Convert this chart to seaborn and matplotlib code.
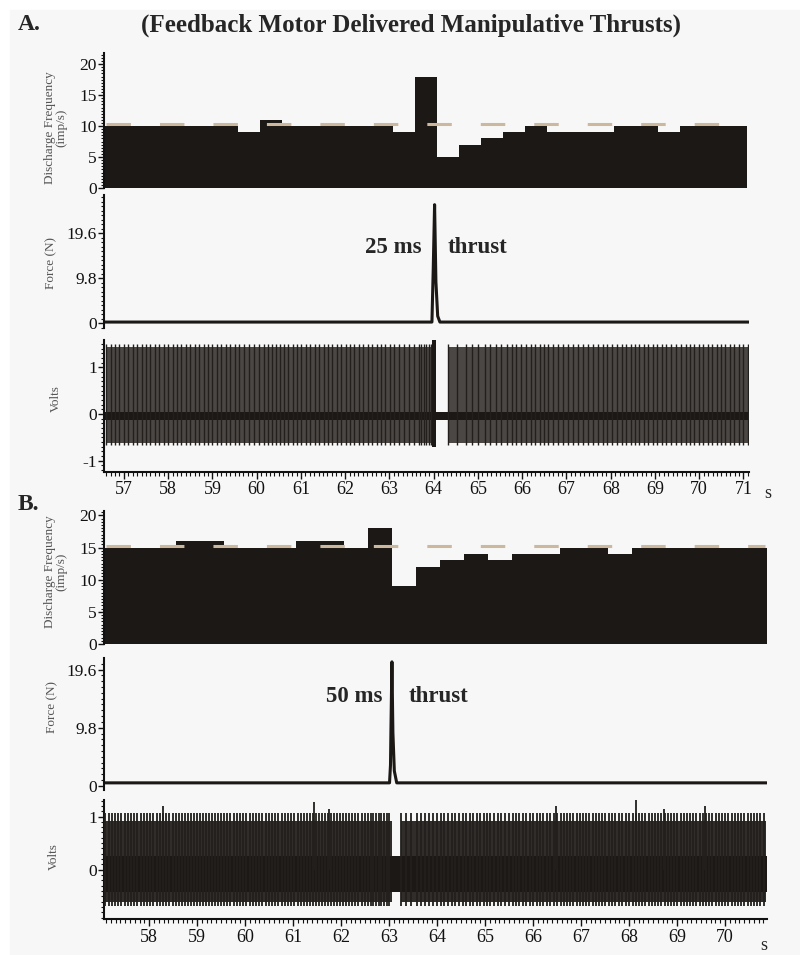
import numpy as np
import pandas as pd
import matplotlib
matplotlib.use("Agg")
import matplotlib.pyplot as plt
import seaborn as sns
from matplotlib.ticker import MultipleLocator
from matplotlib.patches import Rectangle

# discharge frequency, 0.5 s bins (imp/s)
bin_width = 0.5
A_bin_start = 56.57
A_rates = [10, 10, 10, 10, 10, 10, 9, 11, 10, 10, 10, 10, 10, 9, 18,
           5, 7, 8, 9, 10, 9, 9, 9, 10, 10, 9, 10, 10, 10]
A_mean = 10.3
B_bin_start = 57.06
B_rates = [15, 15, 15, 16, 16, 15, 15, 15, 16, 16, 15, 18, 9, 12,
           13, 14, 13, 14, 14, 15, 15, 14, 15, 15, 15, 15, 15, 15]
B_mean = 15.2

# force traces (s, N)
A_force_t = [56.55, 63.96, 63.99, 64.02, 64.05, 64.09, 64.14, 71.12]
A_force_v = [0.3, 0.3, 12.0, 25.8, 9.0, 1.6, 0.3, 0.3]
B_force_t = [57.06, 63.01, 63.03, 63.04, 63.06, 63.08, 63.11, 63.16, 70.88]
B_force_v = [0.5, 0.5, 3.5, 9.8, 20.9, 9.0, 2.5, 0.5, 0.5]

# spike recording: firing windows, spike extent, dense envelope, noise band
A_spike_windows = [(56.60, 63.96), (64.32, 71.10)]
A_spike_range = (-0.66, 1.50)
A_envelope = (-0.62, 1.44)
A_noise = (-0.12, 0.05)
A_artifact = (63.97, 64.05, -0.70, 1.62)
B_spike_windows = [(57.09, 63.06), (63.24, 70.86)]
B_spike_range = (-0.68, 1.06)
B_envelope = (-0.60, 0.92)
B_noise = (-0.42, 0.25)
B_tall_t = [58.28, 61.43, 61.75, 66.47, 68.14, 68.72, 69.58]
B_tall_v = [1.20, 1.28, 1.15, 1.20, 1.32, 1.15, 1.20]

A_xlim = (56.55, 71.12)
B_xlim = (57.06, 70.88)

BLACK = "#1b1815"
TAN = "#cbb89f"

sns.set_theme(style="ticks")
plt.rcParams["font.family"] = ["Liberation Serif", "DejaVu Serif"]


def spike_times(windows, start, rates):
    # spikes follow the discharge rate of the bin they fall in
    out = []
    for lo, hi in windows:
        t = lo
        while t < hi:
            k = int((t - start) // bin_width)
            k = min(max(k, 0), len(rates) - 1)
            out.append(t)
            t += 1.0 / rates[k]
    return np.array(out)


fig = plt.figure(figsize=(8, 9.55), dpi=100)
fig.add_artist(Rectangle((10 / 800, 0), 1, 1 - 10 / 955, transform=fig.transFigure,
                         color="#f7f7f7", zorder=-10))


def style_axis(ax, xlim, ylim, yticks, ylabels, minor, xaxis=False):
    ax.set_facecolor("none")
    ax.set_xlim(*xlim)
    ax.set_ylim(*ylim)
    for s in ["top", "right"]:
        ax.spines[s].set_visible(False)
    ax.spines["left"].set_linewidth(1.5)
    ax.spines["left"].set_color("#111111")
    ax.set_yticks(yticks)
    ax.set_yticklabels(ylabels)
    ax.yaxis.set_minor_locator(MultipleLocator(minor))
    ax.tick_params(axis="y", which="major", direction="out", length=4, width=1,
                   labelsize=12.5, pad=1, colors="#111111", left=True)
    ax.tick_params(axis="y", which="minor", direction="out", length=2, width=0.8,
                   colors="#111111", left=True)
    ax.set_ylabel("")
    ax.set_xlabel("")
    if xaxis:
        ax.spines["bottom"].set_linewidth(1.5)
        ax.spines["bottom"].set_color("#111111")
        ax.xaxis.set_minor_locator(MultipleLocator(0.1))
        ax.tick_params(axis="x", which="major", direction="out", length=5, width=1,
                       labelsize=13, pad=2, colors="#111111", bottom=True)
        ax.tick_params(axis="x", which="minor", direction="out", length=3, width=0.8,
                       colors="#111111", bottom=True)
    else:
        ax.spines["bottom"].set_visible(False)
        ax.set_xticks([])


def discharge(ax, start, rates, mean, xlim):
    edges = start + bin_width * np.arange(len(rates) + 1)
    ax.stairs(rates, edges, fill=True, color=BLACK, lw=0)
    ax.plot([xlim[0] + 0.05, xlim[1] - 0.05], [mean, mean], color=TAN, lw=2.2,
            linestyle=(0, (8, 9.5)), zorder=5)


def force(ax, t, v):
    df = pd.DataFrame({"t": t, "force": v})
    sns.lineplot(data=df, x="t", y="force", ax=ax, color=BLACK, lw=2.2)


def volts(ax, windows, start, rates, rng, env, noise, xlim, lw, env_color):
    st = spike_times(windows, start, rates)
    for lo, hi in windows:
        ax.fill_between([lo, hi], env[0], env[1], color=env_color, lw=0, zorder=1)
    ax.fill_between([xlim[0], xlim[1]], noise[0], noise[1], color=BLACK, lw=0, zorder=2)
    ax.vlines(st, rng[0], rng[1], color="#221f1c", lw=lw, zorder=3)


# ---- panel A ----
axA1 = fig.add_axes([0.13, 0.8031, 0.806, 0.1414])
discharge(axA1, A_bin_start, A_rates, A_mean, A_xlim)
style_axis(axA1, A_xlim, (0, 21.8), [0, 5, 10, 15, 20], ["0", "5", "10", "15", "20"], 0.5)

axA2 = fig.add_axes([0.13, 0.6565, 0.806, 0.1393])
force(axA2, A_force_t, A_force_v)
style_axis(axA2, A_xlim, (-1.0, 27.9), [0, 9.8, 19.6], ["0", "9.8", "19.6"], 0.98)
axA2.text(63.73, 16.4, "25 ms", ha="right", va="center", fontsize=16.5, fontweight="bold")
axA2.text(64.32, 16.4, "thrust", ha="left", va="center", fontsize=16.5, fontweight="bold")

axA3 = fig.add_axes([0.13, 0.5061, 0.806, 0.1379])
volts(axA3, A_spike_windows, A_bin_start, A_rates, A_spike_range, A_envelope, A_noise,
      A_xlim, 1.0, "#4b4744")
x0, x1, y0, y1 = A_artifact
axA3.fill_between([x0, x1], y0, y1, color=BLACK, lw=0, zorder=4)
style_axis(axA3, A_xlim, (-1.24, 1.59), [-1, 0, 1], ["-1", "0", "1"], 0.1, xaxis=True)
axA3.set_xticks(range(57, 72))

# ---- panel B ----
axB1 = fig.add_axes([0.13, 0.3257, 0.829, 0.1393])
discharge(axB1, B_bin_start, B_rates, B_mean, B_xlim)
style_axis(axB1, B_xlim, (0, 20.7), [0, 5, 10, 15, 20], ["0", "5", "10", "15", "20"], 0.5)

axB2 = fig.add_axes([0.13, 0.1728, 0.829, 0.1379])
force(axB2, B_force_t, B_force_v)
style_axis(axB2, B_xlim, (-0.7, 21.5), [0, 9.8, 19.6], ["0", "9.8", "19.6"], 0.98)
axB2.text(62.87, 15.0, "50 ms", ha="right", va="center", fontsize=16.5, fontweight="bold")
axB2.text(63.40, 15.0, "thrust", ha="left", va="center", fontsize=16.5, fontweight="bold")

axB3 = fig.add_axes([0.13, 0.0374, 0.829, 0.1249])
volts(axB3, B_spike_windows, B_bin_start, B_rates, B_spike_range, B_envelope, B_noise,
      B_xlim, 1.3, "#302d2a")
axB3.vlines(B_tall_t, 0, B_tall_v, color="#221f1c", lw=1.3, zorder=3)
style_axis(axB3, B_xlim, (-0.93, 1.31), [0, 1], ["0", "1"], 0.1, xaxis=True)
axB3.set_xticks(range(58, 71))

# ---- text ----
fig.text(0.514, 1 - 25 / 955, "(Feedback Motor Delivered Manipulative Thrusts)",
         ha="center", va="center", fontsize=18, fontweight="bold")
fig.text(18 / 800, 1 - 25 / 955, "A.", ha="left", va="center", fontsize=17, fontweight="bold")
fig.text(18 / 800, 1 - 505 / 955, "B.", ha="left", va="center", fontsize=17, fontweight="bold")
fig.text(764 / 800, 1 - 493 / 955, "s", ha="left", va="center", fontsize=13)
fig.text(760 / 800, 1 - 945 / 955, "s", ha="left", va="center", fontsize=13)

ylab = dict(rotation=90, ha="center", va="center", fontsize=9.5, color="#555555",
            linespacing=0.95)
fig.text(56 / 800, 1 - 128 / 955, "Discharge Frequency\n(imp/s)", **ylab)
fig.text(51 / 800, 1 - 263 / 955, "Force (N)", **ylab)
fig.text(56 / 800, 1 - 399 / 955, "Volts", **ylab)
fig.text(56 / 800, 1 - 572 / 955, "Discharge Frequency\n(imp/s)", **ylab)
fig.text(52 / 800, 1 - 707 / 955, "Force (N)", **ylab)
fig.text(54 / 800, 1 - 857 / 955, "Volts", **ylab)

fig.savefig("out.png", dpi=100)
